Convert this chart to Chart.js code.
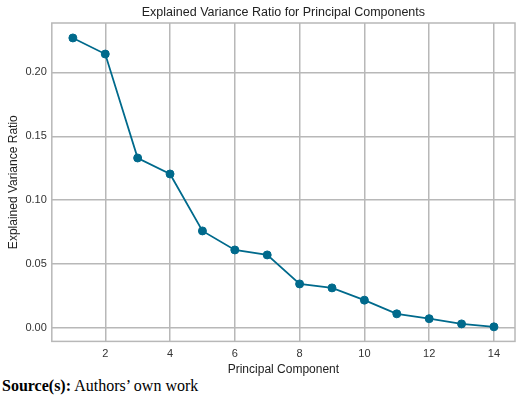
<!DOCTYPE html>
<html>
<head>
<meta charset="utf-8">
<script src="https://cdn.jsdelivr.net/npm/chart.js@4/dist/chart.umd.min.js"></script>
<style>
  html, body { margin: 0; padding: 0; background: #fff; }
  #wrap { position: relative; width: 520px; height: 396px; }
  #box { position: absolute; left: 0; top: 0; width: 520px; height: 377px; }
  #source {
    position: absolute; left: 2px; top: 377px;
    font-family: "Liberation Serif", "Times New Roman", serif;
    font-size: 16px; color: #000;
  }
</style>
</head>
<body>
<div id="wrap">
  <div id="box"><canvas id="pcaChart"></canvas></div>
  <div id="source"><b>Source(s):</b> Authors’ own work</div>
</div>
<script>
// Данные: доля объяснённой дисперсии по компонентам
const components = [1, 2, 3, 4, 5, 6, 7, 8, 9, 10, 11, 12, 13, 14];
const varianceRatio = [0.227, 0.2144, 0.133, 0.1205, 0.0759, 0.061, 0.0571, 0.0344, 0.0313, 0.0217, 0.011, 0.0072, 0.0031, 0.0008];
const xTicks = [2, 4, 6, 8, 10, 12, 14];
const yTicks = [0, 0.05, 0.10, 0.15, 0.20];
const chartTitle = 'Explained Variance Ratio for Principal Components';

const lineColor = '#006a8c';
const gridColor = '#b8b8b8';

// Рамка вокруг области графика и заголовок по центру области
const frame = {
    id: 'frame',
    afterDraw(chart) {
        const { ctx, chartArea: a } = chart;
        ctx.save();
        ctx.strokeStyle = gridColor;
        ctx.lineWidth = 1.5;
        ctx.strokeRect(a.left, a.top, a.right - a.left, a.bottom - a.top);
        ctx.fillStyle = '#222';
        ctx.font = '12.5px "Liberation Sans", Arial, sans-serif';
        ctx.textAlign = 'center';
        ctx.textBaseline = 'middle';
        ctx.fillText(chartTitle, (a.left + a.right) / 2, 13);
        ctx.restore();
    }
};

document.addEventListener('DOMContentLoaded', () => {
    const ctx = document.getElementById('pcaChart').getContext('2d');
    Chart.defaults.font.family = '"Liberation Sans", Arial, sans-serif';
    Chart.defaults.color = '#333';

    new Chart(ctx, {
        type: 'line',
        data: {
            datasets: [{
                data: components.map((c, i) => ({ x: c, y: varianceRatio[i] })),
                borderColor: lineColor,
                backgroundColor: lineColor,
                borderWidth: 1.8,
                pointRadius: 4,
                pointBorderWidth: 1,
                pointHoverRadius: 4,
                fill: false,
                tension: 0
            }]
        },
        options: {
            responsive: true,
            maintainAspectRatio: false,
            animation: false,
            layout: { padding: { left: 6, right: 0, top: 23, bottom: 0 } },
            plugins: {
                legend: { display: false },
                tooltip: { enabled: false },
                title: { display: false }
            },
            scales: {
                x: {
                    type: 'linear',
                    min: 0.35,
                    max: 14.65,
                    afterBuildTicks: axis => { axis.ticks = xTicks.map(v => ({ value: v })); },
                    ticks: { font: { size: 11 }, padding: 6, callback: v => String(v) },
                    grid: { color: gridColor, lineWidth: 1.5, drawTicks: false },
                    border: { display: false },
                    title: { display: true, text: 'Principal Component', font: { size: 12 }, color: '#222', padding: { top: -4, bottom: 0 } }
                },
                y: {
                    min: -0.0106,
                    max: 0.2387,
                    afterBuildTicks: axis => { axis.ticks = yTicks.map(v => ({ value: v })); },
                    ticks: { font: { size: 11 }, padding: 5, callback: v => v.toFixed(2) },
                    grid: { color: gridColor, lineWidth: 1.5, drawTicks: false },
                    border: { display: false },
                    title: { display: true, text: 'Explained Variance Ratio', font: { size: 12 }, color: '#222', padding: { top: 0, bottom: 0 } }
                }
            }
        },
        plugins: [frame]
    });
});
</script>
</body>
</html>
